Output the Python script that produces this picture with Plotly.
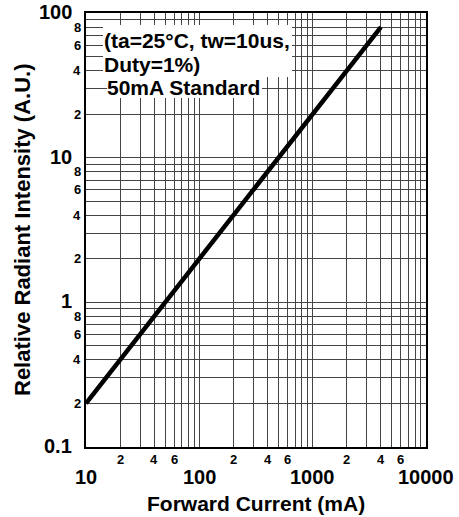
import numpy as np
import plotly.graph_objects as go

# Data
forward_current_mA = [10, 100, 1000, 4000]
relative_intensity = [0.2, 2, 20, 80]

x_major = [10, 100, 1000, 10000]
x_major_labels = ["10", "100", "1000", "10000"]
x_minor_mult = [2, 4, 6]
y_major = [0.1, 1, 10, 100]
y_major_labels = ["0.1", "1", "10", "100"]
y_minor_mult = [2, 4, 6, 8]
cond_lines = ["(ta=25°C, tw=10us,", "Duty=1%)", "50mA Standard"]

FONT = "Liberation Sans, Arial, sans-serif"

x_grid = [m * d for d in [10, 100, 1000] for m in range(1, 10)] + [10000]
y_grid = [m * d for d in [0.1, 1, 10] for m in range(1, 10)] + [100]

fig = go.Figure()
fig.add_trace(go.Scatter(
    x=forward_current_mA, y=relative_intensity, mode="lines",
    line=dict(color="black", width=4.5), showlegend=False, hoverinfo="skip",
))

annotations = []
for v, t in zip(y_major, y_major_labels):
    annotations.append(dict(x=0, xref="paper", y=np.log10(v), yref="y", text=f"<b>{t}</b>",
                            showarrow=False, xanchor="right", yanchor="middle", xshift=-12, yshift=1,
                            font=dict(family=FONT, size=20, color="black")))
for d in [0.1, 1, 10]:
    for m in y_minor_mult:
        v = m * d
        annotations.append(dict(x=0, xref="paper", y=np.log10(v), yref="y", text=f"<b>{m}</b>",
                                showarrow=False, xanchor="right", yanchor="middle", xshift=-3,
                                font=dict(family=FONT, size=13, color="black")))
for v, t in zip(x_major, x_major_labels):
    annotations.append(dict(x=np.log10(v), xref="x", y=0, yref="paper", text=f"<b>{t}</b>",
                            showarrow=False, xanchor="center", yanchor="top", yshift=-17,
                            font=dict(family=FONT, size=20, color="black")))
for d in [10, 100, 1000]:
    for m in x_minor_mult:
        v = m * d
        annotations.append(dict(x=np.log10(v), xref="x", y=0, yref="paper", text=f"<b>{m}</b>",
                                showarrow=False, xanchor="center", yanchor="top", yshift=-3,
                                font=dict(family=FONT, size=13, color="black")))
# white backing boxes for the condition text
annotations.append(dict(x=0.05, xref="paper", y=0.9725, yref="paper", text=" ",
                        showarrow=False, xanchor="left", yanchor="top", width=189, height=52,
                        bgcolor="white", borderpad=0, borderwidth=0))
annotations.append(dict(x=0.062, xref="paper", y=0.853, yref="paper", text=" ",
                        showarrow=False, xanchor="left", yanchor="top", width=155, height=21,
                        bgcolor="white", borderpad=0, borderwidth=0))
cond_x = [0.047, 0.047, 0.057]
cond_y = [0.9358, 0.8807, 0.828]
for t, xx, yy in zip(cond_lines, cond_x, cond_y):
    annotations.append(dict(x=xx, xref="paper", y=yy, yref="paper", text=f"<b>{t}</b>",
                            showarrow=False, xanchor="left", yanchor="middle", align="left",
                            font=dict(family=FONT, size=21, color="black")))
annotations.append(dict(x=0.5, xref="paper", y=0, yref="paper", text="<b>Forward Current (mA)</b>",
                        showarrow=False, xanchor="center", yanchor="top", yshift=-43,
                        font=dict(family=FONT, size=21, color="black")))
annotations.append(dict(x=0, xref="paper", y=0.5, yref="paper", text="<b>Relative Radiant Intensity (A.U.)</b>",
                        showarrow=False, xanchor="center", yanchor="middle", xshift=-64, textangle=-90,
                        font=dict(family=FONT, size=22, color="black")))

fig.update_layout(
    width=459, height=517,
    margin=dict(l=86, r=33, t=11, b=70),
    paper_bgcolor="white", plot_bgcolor="white",
    annotations=annotations,
    xaxis=dict(type="log", range=[1, 4], tickvals=x_grid, showticklabels=False, ticks="",
               showgrid=True, gridcolor="#444", gridwidth=1, zeroline=False,
               showline=True, linecolor="black", linewidth=1.5, mirror=True),
    yaxis=dict(type="log", range=[-1, 2], tickvals=y_grid, showticklabels=False, ticks="",
               showgrid=True, gridcolor="#444", gridwidth=1, zeroline=False,
               showline=True, linecolor="black", linewidth=1.5, mirror=True),
)

fig.write_html("out.html", config={"displayModeBar": False},
               post_script="document.body.style.margin='0';")
